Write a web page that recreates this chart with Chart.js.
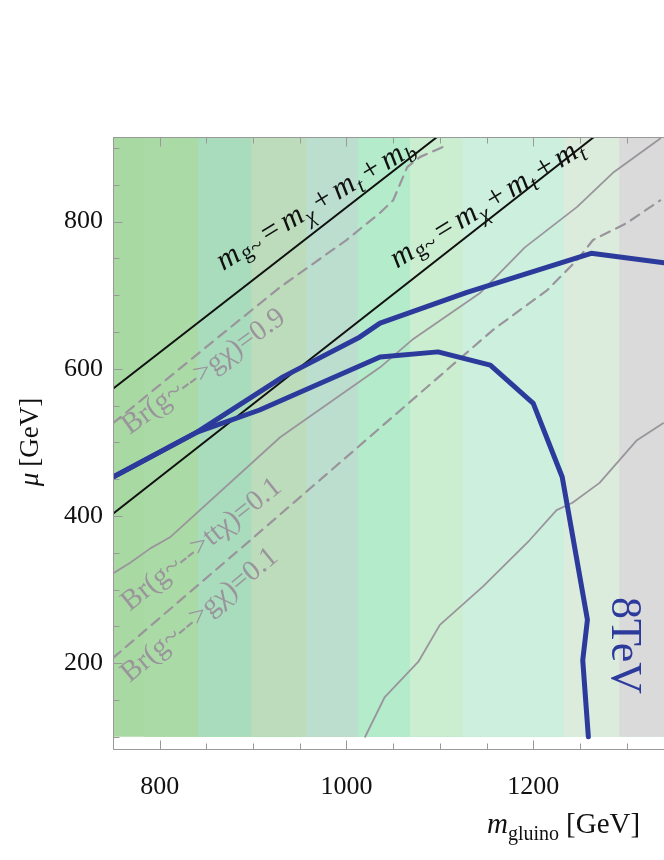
<!DOCTYPE html>
<html lang="en">
<head>
  <meta charset="UTF-8">
  <title>m_gluino vs mu</title>
  <script src="https://cdn.jsdelivr.net/npm/chart.js"></script>
  <style>
    html, body { margin: 0; padding: 0; background: #fff; overflow: hidden; }
    canvas { display: block; }
  </style>
</head>
<body>
  <canvas id="grafico" width="664" height="860"></canvas>
  <script>
    // ejes
    const xMin = 750, xMax = 1340, yMin = 82, yMax = 915;
    const xTicks = [800, 1000, 1200];
    const yTicks = [200, 400, 600, 800];

    // bandas de fondo (bordes en m_gluino y color de cada banda)
    const bandEdges = [750, 783, 841, 898, 957, 1012, 1068, 1124, 1233, 1292, 1340];
    const bandColors = ['#a8d9a2', '#aadba6', '#a8dcbc', '#bddcbc', '#bcdecf',
                        '#b4ebcb', '#cbedd0', '#cdefde', '#dcecdc', '#dadada'];
    const bandBottom = 100;

    // lineas cinematicas
    const tbX = [750, 1097], tbY = [573, 915];   // m_g = m_chi + m_t + m_b
    const ttX = [750, 1265], ttY = [403, 915];   // m_g = m_chi + m_t + m_t

    // Br(g -> g chi) = 0.9 (discontinua)
    const g09X = [750, 854, 929, 1000, 1036, 1050, 1065, 1079, 1108];
    const g09Y = [526, 634, 711, 775, 812, 829, 874, 888, 904];

    // Br(g -> tt chi) = 0.1 (continua)
    const tt01X = [750, 768, 790, 811, 929, 1036, 1070, 1143, 1191, 1247, 1285, 1336];
    const tt01Y = [322, 336, 356, 371, 507, 602, 639, 703, 765, 820, 866, 913];

    // Br(g -> g chi) = 0.1 (discontinua)
    const g01X = [750, 897, 1018, 1157, 1215, 1247, 1264, 1300, 1336];
    const g01Y = [207, 367, 500, 653, 707, 748, 775, 798, 829];

    // contorno gris inferior derecho
    const lowX = [1020, 1041, 1077, 1100, 1146, 1196, 1225, 1242, 1271, 1311, 1339];
    const lowY = [100, 154, 202, 252, 304, 367, 408, 418, 445, 503, 526];

    // limites 8 TeV
    const domeX = [750, 840, 907, 1036, 1098, 1154, 1200, 1231, 1243, 1258, 1253, 1259];
    const domeY = [453, 514, 544, 616, 623, 605, 553, 453, 367, 259, 204, 100];
    const upX = [750, 840, 932, 1014, 1036, 1129, 1262, 1340];
    const upY = [453, 514, 589, 643, 662, 704, 757, 744];

    const serif = '"Liberation Serif", "Times New Roman", serif';
    function F(size, italic) { return (italic ? 'italic ' : '') + size + 'px ' + serif; }
    function pts(xs, ys) { return xs.map((x, i) => ({ x, y: ys[i] })); }

    const GRAY = '#9a959c';
    const BLUE = '#2b3a9b';

    const datasets = [];

    // cada banda va del borde izquierdo al final; las siguientes tapan
    bandColors.forEach((c, i) => {
      datasets.push({
        data: [{ x: bandEdges[i], y: yMax }, { x: xMax, y: yMax }],
        fill: { value: bandBottom },
        backgroundColor: c,
        borderWidth: 0,
        pointRadius: 0,
        order: 100 - i
      });
    });

    function linea(xs, ys, color, width, dash, order) {
      datasets.push({
        data: pts(xs, ys),
        borderColor: color,
        borderWidth: width,
        borderDash: dash || [],
        borderCapStyle: 'round',
        borderJoinStyle: 'round',
        fill: false,
        pointRadius: 0,
        order: order
      });
    }

    linea(lowX, lowY, GRAY, 1.8, null, 6);
    linea(tt01X, tt01Y, GRAY, 1.8, null, 6);
    linea(g01X, g01Y, GRAY, 2.2, [10, 7], 6);
    linea(g09X, g09Y, GRAY, 2.2, [10, 7], 6);
    linea(tbX, tbY, '#111', 2, null, 5);
    linea(ttX, ttY, '#111', 2, null, 5);
    linea(domeX, domeY, BLUE, 5, null, 1);
    linea(upX, upY, BLUE, 5, null, 1);

    function drawRich(ctx, x, y, angle, parts, color, align) {
      ctx.save();
      ctx.translate(x, y);
      ctx.rotate(angle * Math.PI / 180);
      ctx.fillStyle = color;
      ctx.textBaseline = 'alphabetic';
      let w = 0;
      parts.forEach(p => { ctx.font = p[1]; w += ctx.measureText(p[0]).width + (p[3] || 0); });
      let cx = align === 'center' ? -w / 2 : 0;
      parts.forEach(p => {
        ctx.font = p[1];
        ctx.fillText(p[0], cx, p[2] || 0);
        cx += ctx.measureText(p[0]).width + (p[3] || 0);
      });
      ctx.restore();
    }

    function massLabel(last) {
      return [['m', F(31, true), 0, 2], ['g~', F(22), 3, 5], ['=', F(31), 0, 5],
              ['m', F(31, true), 0, 1], ['χ', F(22, true), 6, 5], ['+', F(31), 0, 5],
              ['m', F(31, true), 0, 1], ['t', F(22, true), 6, 5], ['+', F(31), 0, 5],
              ['m', F(31, true), 0, 1], [last, F(22, true), 6, 0]];
    }

    // etiquetas sobre las curvas: [m, mu, angulo, partes, color]
    const etiquetas = [
      [868, 733, -31.5, massLabel('b'), '#111'],
      [1054, 736, -31.5, massLabel('t'), '#111'],
      [768, 510, -36, [['Br(g~-->gχ)=0.9', F(29), 0, 0]], GRAY],
      [768, 270, -38.5, [['Br(g~-->ttχ)=0.1', F(29), 0, 0]], GRAY],
      [768, 173, -39.6, [['Br(g~-->gχ)=0.1', F(29), 0, 0]], GRAY],
      [1284, 290, 90, [['8TeV', F(44), 0, 0]], BLUE]
    ];

    const decoraciones = {
      id: 'decoraciones',
      afterDatasetsDraw(chart) {
        const ctx = chart.ctx;
        const sx = chart.scales.x, sy = chart.scales.y;
        etiquetas.forEach(e => {
          drawRich(ctx, sx.getPixelForValue(e[0]), sy.getPixelForValue(e[1]), e[2], e[3], e[4], 'left');
        });
      },
      afterDraw(chart) {
        const ctx = chart.ctx;
        const a = chart.chartArea;
        const sx = chart.scales.x, sy = chart.scales.y;
        const L = Math.round(a.left) + 0.5, B = Math.round(a.bottom) - 0.5, T = Math.round(a.top) + 0.5;
        ctx.save();
        ctx.strokeStyle = '#999';
        ctx.lineWidth = 1;
        ctx.beginPath();
        ctx.moveTo(L, T); ctx.lineTo(a.right, T);
        ctx.moveTo(L, T); ctx.lineTo(L, B); ctx.lineTo(a.right, B);
        // marcas hacia dentro
        for (let v = 750; v <= xMax; v += 50) {
          const px = Math.round(sx.getPixelForValue(v)) + 0.5;
          const len = v % 200 === 0 ? 9 : 6;
          ctx.moveTo(px, B); ctx.lineTo(px, B - len);
          ctx.moveTo(px, T); ctx.lineTo(px, T + len);
        }
        for (let v = 100; v <= 900; v += 50) {
          const py = Math.round(sy.getPixelForValue(v)) + 0.5;
          const len = v % 200 === 0 ? 9 : 6;
          ctx.moveTo(L, py); ctx.lineTo(L + len, py);
        }
        ctx.stroke();
        ctx.restore();

        // titulos de los ejes
        drawRich(ctx, 487, 833, 0,
          [['m', F(29, true), 0, 0], ['gluino', F(20), 7, 7], ['[GeV]', F(29), 0, 0]], '#111', 'left');
        drawRich(ctx, 38, 442, -90,
          [['μ', F(27, true), 0, 6], ['[GeV]', F(27), 0, 0]], '#111', 'center');
      }
    };

    const ctx = document.getElementById('grafico').getContext('2d');
    new Chart(ctx, {
      type: 'line',
      data: { datasets },
      options: {
        responsive: false,
        animation: false,
        devicePixelRatio: 1,
        layout: { padding: { top: 137, right: 0, bottom: 0, left: 0 } },
        plugins: { legend: { display: false }, tooltip: { enabled: false } },
        elements: { line: { tension: 0 }, point: { radius: 0 } },
        scales: {
          x: {
            type: 'linear', min: xMin, max: xMax,
            afterBuildTicks: s => { s.ticks = xTicks.map(v => ({ value: v })); },
            afterFit: s => { s.height = 110; },
            grid: { display: false, drawTicks: false },
            border: { display: false },
            ticks: { font: { family: serif, size: 26 }, color: '#111', padding: 22, maxRotation: 0,
                     autoSkip: false, callback: v => String(v) }
          },
          y: {
            type: 'linear', min: yMin, max: yMax,
            afterBuildTicks: s => { s.ticks = yTicks.map(v => ({ value: v })); },
            afterFit: s => { s.width = 113; },
            grid: { display: false, drawTicks: false },
            border: { display: false },
            ticks: { font: { family: serif, size: 26 }, color: '#111', padding: 10,
                     autoSkip: false, callback: v => String(v) }
          }
        }
      },
      plugins: [decoraciones]
    });
  </script>
</body>
</html>
